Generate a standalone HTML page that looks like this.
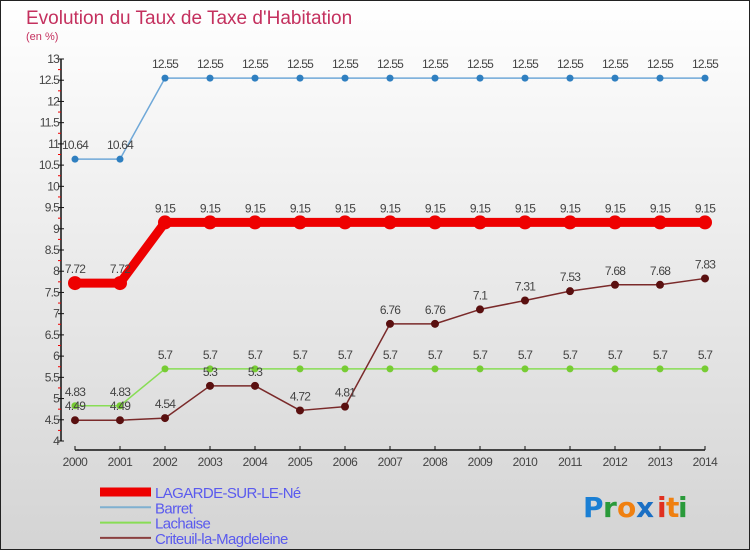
<!DOCTYPE html>
<html><head><meta charset="utf-8"><style>
html,body{margin:0;padding:0}
body{width:750px;height:550px;overflow:hidden;font-family:"Liberation Sans","DejaVu Sans",sans-serif}
#wrap{position:absolute;left:0;top:0;width:748px;height:548px;border:1px solid #222;background:linear-gradient(#ffffff 0%,#f2f2f2 30%,#d4d4d4 100%)}
</style></head><body>
<div id="wrap">
<svg id="chart" width="750" height="550" style="position:absolute;left:-1px;top:-1px">
<text x="26" y="24" font-size="19" fill="#c4305e">Evolution du Taux de Taxe d'Habitation</text>
<text x="26" y="40" font-size="11" fill="#c4305e">(en %)</text>
<g id="axes"></g>
<g id="series"></g>
<g id="legend"></g>
<g font-size="28" font-weight="bold" font-family="'DejaVu Sans',sans-serif">
<text x="583" y="517" fill="#1a7fd4">P</text><text x="603" y="517" fill="#2a9a3a">r</text><text x="617" y="517" fill="#f08010">o</text><text x="636" y="517" fill="#1a6fc4">x</text><text x="657" y="517" fill="#e03020">i</text><text x="666" y="517" fill="#f08010">t</text><text x="678" y="517" fill="#2a9a3a">i</text>
</g>
</svg>
</div>
<script>
const years=[2000,2001,2002,2003,2004,2005,2006,2007,2008,2009,2010,2011,2012,2013,2014];
const seriesNames=["LAGARDE-SUR-LE-Né","Barret","Lachaise","Criteuil-la-Magdeleine"];
const lagarde=[7.72,7.72,9.15,9.15,9.15,9.15,9.15,9.15,9.15,9.15,9.15,9.15,9.15,9.15,9.15];
const barret=[10.64,10.64,12.55,12.55,12.55,12.55,12.55,12.55,12.55,12.55,12.55,12.55,12.55,12.55,12.55];
const lachaise=[4.83,4.83,5.7,5.7,5.7,5.7,5.7,5.7,5.7,5.7,5.7,5.7,5.7,5.7,5.7];
const criteuil=[4.49,4.49,4.54,5.3,5.3,4.72,4.81,6.76,6.76,7.1,7.31,7.53,7.68,7.68,7.83];
const yTicks=[4,4.5,5,5.5,6,6.5,7,7.5,8,8.5,9,9.5,10,10.5,11,11.5,12,12.5,13];

const NS="http://www.w3.org/2000/svg";
const X0=75,XS=45,YB=441,YT=59,YMIN=4,YMAX=13;
const xs=i=>X0+i*XS;
const ys=v=>YB-(v-YMIN)/(YMAX-YMIN)*(YB-YT);
function mk(tag,attrs,parent){const e=document.createElementNS(NS,tag);for(const k in attrs)e.setAttribute(k,attrs[k]);parent.appendChild(e);return e;}
const axes=document.getElementById('axes'),ser=document.getElementById('series'),leg=document.getElementById('legend');
function fmt(v){return String(v);}

let a=mk('line',{x1:61,y1:ys(YMAX),x2:61,y2:ys(YMIN),stroke:'#111','stroke-width':1.5},axes);


yTicks.forEach(t=>{
 const y=ys(t);
 let l=mk('line',{x1:58,y1:y,x2:64,y2:y,stroke:'#111'},axes);
 
 
 let tx=mk('text',{x:59,y:y+4,'font-size':12,'text-anchor':'end',fill:'#444','letter-spacing':'-0.8'},axes);
 tx.textContent=fmt(t);
 
 
 if(t<YMAX){let m=mk('line',{x1:58,y1:ys(t+0.25),x2:61,y2:ys(t+0.25),stroke:'#e00'},axes);
 
 }
});
let xa=mk('line',{x1:xs(0),y1:450,x2:xs(years.length-1),y2:450,stroke:'#111','stroke-width':1.5},axes);


years.forEach((yr,i)=>{
 let l=mk('line',{x1:xs(i),y1:446,x2:xs(i),y2:450,stroke:'#111'},axes);
 
 
 let t=mk('text',{x:xs(i),y:466,'font-size':12,'text-anchor':'middle',fill:'#444','letter-spacing':'-0.5'},axes);
 t.textContent=yr;
 
 
});

function drawSeries(data,color,width,r,name,dark){
 const g=mk('g',{},ser);
 
 
 const pl=mk('polyline',{points:data.map((v,i)=>xs(i)+','+ys(v)).join(' '),fill:'none',stroke:color,'stroke-width':width,'stroke-linejoin':'round'},g);
 
 
 data.forEach((v,i)=>{
  const c=mk('circle',{cx:xs(i),cy:ys(v),r:r,fill:dark},g);
  
  
  const t=mk('text',{x:xs(i),y:ys(v)-10,'font-size':12,'text-anchor':'middle',fill:'#444','letter-spacing':'-0.8'},g);
  t.textContent=fmt(v);
  
  
 });
}
drawSeries(lagarde,'#ee0000',9,7,'lagarde','#ee0000');
drawSeries(barret,'#6fa8d8',1.5,3.5,'barret','#2f7fc0');
drawSeries(lachaise,'#88dd55',1.5,3.5,'lachaise','#77cc33');
drawSeries(criteuil,'#7a2a2a',1.5,4,'criteuil','#5a1010');

const legColors=['#ee0000','#7fb0d0','#88dd55','#8a4040'];
const legW=[9,2,2,2];
seriesNames.forEach((n,i)=>{
 const y=492+i*15.3;
 const l=mk('line',{x1:100,y1:y,x2:151,y2:y,stroke:legColors[i],'stroke-width':legW[i]},leg);
 
 
 const t=mk('text',{x:155,y:y+6,'font-size':15,fill:'#5a5aee','letter-spacing':'-0.6'},leg);
 t.textContent=n;
 
 
});
</script>
</body></html>
